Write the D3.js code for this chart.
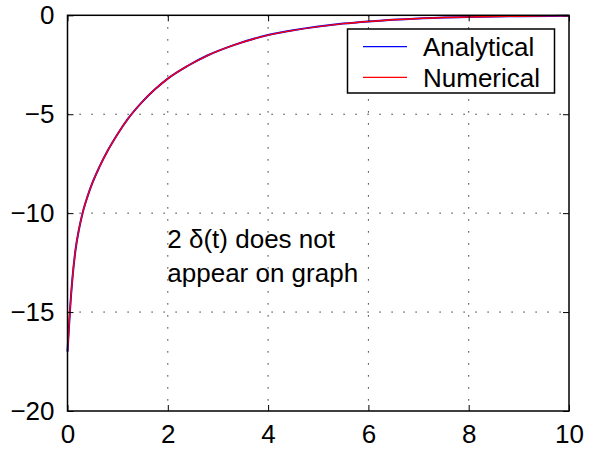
<!DOCTYPE html>
<html>
<head>
<meta charset="utf-8">
<script src="https://cdn.jsdelivr.net/npm/d3@7"></script>
<style>
  body { margin: 0; background: #fff; }
  text { font-family: "Liberation Sans", Arial, Helvetica, sans-serif; }
</style>
</head>
<body>
<svg id="viz" width="598" height="454"></svg>
<script>
// values
var tValues    = [0, 0.05, 0.1, 0.16, 0.23, 0.3, 0.4, 0.5, 0.63, 0.8, 1.0, 1.2, 1.5, 1.75, 2.0, 2.4, 2.8, 3.3, 4.0, 4.5, 5.0, 5.5, 6.0, 7.0, 8.0, 9.0, 10.0];
var analytical = [-17, -14.9, -13.25, -11.85, -10.8, -10.0, -9.15, -8.45, -7.7, -6.85, -6.0, -5.25, -4.35, -3.73, -3.2, -2.55, -2.02, -1.52, -1.0, -0.76, -0.57, -0.42, -0.31, -0.16, -0.085, -0.045, -0.025];
var numerical  = [-17, -14.9, -13.25, -11.85, -10.8, -10.0, -9.15, -8.45, -7.7, -6.85, -6.0, -5.25, -4.35, -3.73, -3.2, -2.55, -2.02, -1.52, -1.0, -0.76, -0.57, -0.42, -0.31, -0.16, -0.085, -0.045, -0.025];
var xTicks = [0, 2, 4, 6, 8, 10];
var yTicks = [-20, -15, -10, -5, 0];
var seriesNames = ["Analytical", "Numerical"];
var seriesColors = ["#0000ff", "#ff0000"];
var noteLines = ["2 \u03b4(t) does not", "appear on graph"];

var svg = d3.select("#viz");
var plotL = 67.5, plotR = 569, plotT = 15.3, plotB = 411;
var fontSize = 26;

var x = d3.scaleLinear().domain([0, 10]).range([plotL, plotR]);
var y = d3.scaleLinear().domain([-20, 0]).range([plotB, plotT]);

svg.append("rect").attr("width", 598).attr("height", 454).attr("fill", "#fff");

// dotted grid
svg.selectAll("line.vgrid")
  .data(xTicks.slice(1, -1))
  .enter()
  .append("line")
  .attr("x1", function(d) { return x(d); })
  .attr("x2", function(d) { return x(d); })
  .attr("y1", plotT).attr("y2", plotB)
  .style("stroke", "#000").style("stroke-width", 1)
  .style("stroke-dasharray", "1.2,10.8");

svg.selectAll("line.hgrid")
  .data(yTicks.slice(1, -1))
  .enter()
  .append("line")
  .attr("y1", function(d) { return y(d); })
  .attr("y2", function(d) { return y(d); })
  .attr("x1", plotL).attr("x2", plotR)
  .style("stroke", "#000").style("stroke-width", 1)
  .style("stroke-dasharray", "1.2,10.8");

// curves
var pts = [analytical, numerical].map(function(vals) {
  return tValues.map(function(t, i) { return [t, vals[i]]; });
});
var line = d3.line()
  .x(function(d) { return x(d[0]); })
  .y(function(d) { return y(d[1]); })
  .curve(d3.curveMonotoneX);

svg.selectAll("path.series")
  .data(pts)
  .enter()
  .append("path")
  .attr("d", line)
  .attr("fill", "none")
  .style("stroke", function(d, i) { return seriesColors[i]; })
  .style("stroke-width", function(d, i) { return i == 0 ? 2 : 1.4; });

// axes with inward ticks
function styleAxis(g, hideText) {
  g.select(".domain").remove();
  g.selectAll(".tick line").style("stroke", "#000").style("stroke-width", 1);
  g.selectAll("text")
    .style("font-size", fontSize + "px")
    .style("font-family", '"Liberation Sans", Arial, sans-serif')
    .style("fill", "#000");
  if (hideText) g.selectAll("text").remove();
}

svg.append("g")
  .attr("transform", "translate(0," + plotB + ")")
  .call(d3.axisBottom(x).tickValues(xTicks).tickSizeInner(-6).tickSizeOuter(0).tickPadding(14).tickFormat(d3.format("d")))
  .call(function(g) { styleAxis(g, false); });

svg.append("g")
  .attr("transform", "translate(" + plotL + ",0)")
  .call(d3.axisLeft(y).tickValues(yTicks).tickSizeInner(-6).tickSizeOuter(0).tickPadding(13).tickFormat(d3.format("d")))
  .call(function(g) { styleAxis(g, false); });

svg.append("g")
  .attr("transform", "translate(0," + plotT + ")")
  .call(d3.axisTop(x).tickValues(xTicks).tickSizeInner(-6).tickSizeOuter(0))
  .call(function(g) { styleAxis(g, true); });

svg.append("g")
  .attr("transform", "translate(" + plotR + ",0)")
  .call(d3.axisRight(y).tickValues(yTicks).tickSizeInner(-6).tickSizeOuter(0))
  .call(function(g) { styleAxis(g, true); });

// box
svg.append("rect")
  .attr("x", plotL).attr("y", plotT)
  .attr("width", plotR - plotL).attr("height", plotB - plotT)
  .attr("fill", "none")
  .style("stroke", "#000").style("stroke-width", 1.5);

// note
svg.selectAll("text.note")
  .data(noteLines)
  .enter()
  .append("text")
  .attr("x", x(2) - 0.5)
  .attr("y", function(d, i) { return 248 + i * 34; })
  .style("font-size", fontSize + "px")
  .style("fill", "#000")
  .text(function(d) { return d; });

// legend
var legend = svg.append("g");
legend.append("rect")
  .attr("x", 347.5).attr("y", 29)
  .attr("width", 207).attr("height", 64)
  .attr("fill", "#fff")
  .style("stroke", "#000").style("stroke-width", 1.5);

seriesNames.forEach(function(name, i) {
  var ly = 46.7 + i * 30.6;
  legend.append("line")
    .attr("x1", 363).attr("x2", 407)
    .attr("y1", ly).attr("y2", ly)
    .style("stroke", seriesColors[i]).style("stroke-width", 1.3);
  legend.append("text")
    .attr("x", 423).attr("y", ly + 9.3)
    .style("font-size", fontSize + "px")
    .style("fill", "#000")
    .text(name);
});
</script>
</body>
</html>
